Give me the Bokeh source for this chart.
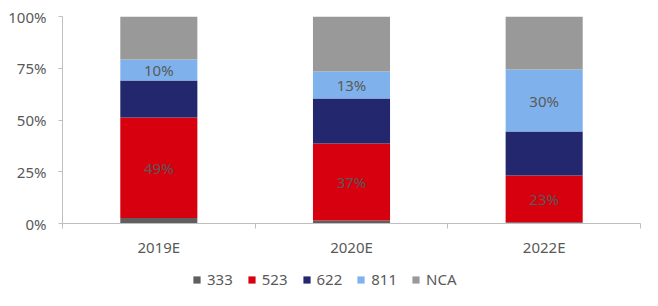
from bokeh.plotting import figure
from bokeh.layouts import column
from bokeh.models import ColumnDataSource, FixedTicker, Legend, LegendItem, NumeralTickFormatter, LabelSet
from bokeh.core.properties import value
from bokeh.embed import file_html
from bokeh.resources import INLINE

categories = ["2019E", "2020E", "2022E"]
series = ["333", "523", "622", "811", "NCA"]
s333 = [0.026, 0.014, 0.006]
s523 = [0.486, 0.372, 0.226]
s622 = [0.179, 0.218, 0.212]
s811 = [0.101, 0.130, 0.300]
sNCA = [0.208, 0.266, 0.256]
colors = ["#5f5f5f", "#d7000f", "#23286e", "#7fb2ec", "#999999"]
label_523 = ["49%", "37%", "23%"]
label_811 = ["10%", "13%", "30%"]

FONT = "Noto Sans"
TXT = "#595959"
FS = "15px"

x = [i + 0.5 for i in range(len(categories))]
data = dict(x=x, **{"333": s333, "523": s523, "622": s622, "811": s811, "NCA": sNCA})
src = ColumnDataSource(data)

p = figure(width=658, height=262, x_range=(0, 3), y_range=(0, 1),
           output_backend="svg", toolbar_location=None,
           min_border_left=62, min_border_right=18, min_border_top=16, min_border_bottom=39)
p.outline_line_color = None
p.xgrid.visible = False
p.ygrid.visible = False

rs = p.vbar_stack(series, x="x", width=0.4, color=colors, line_color=None, source=src)

# data labels
lab_y523 = [a + b / 2 for a, b in zip(s333, s523)]
lab_y811 = [a + b + c + d / 2 for a, b, c, d in zip(s333, s523, s622, s811)]
lsrc = ColumnDataSource(dict(x=x + x, y=lab_y523 + lab_y811, t=label_523 + label_811))
p.add_layout(LabelSet(x="x", y="y", text="t", source=lsrc, text_align="center",
                      text_baseline="middle", text_color=TXT, text_font=value(FONT),
                      text_font_size=FS))

# y axis
p.yaxis.ticker = FixedTicker(ticks=[0, 0.25, 0.5, 0.75, 1.0])
p.yaxis.formatter = NumeralTickFormatter(format="0%")
p.yaxis.axis_line_color = "#bfbfbf"
p.yaxis.major_tick_line_color = "#bfbfbf"
p.yaxis.major_tick_out = 4
p.yaxis.major_tick_in = 0
p.yaxis.minor_tick_line_color = None
p.yaxis.major_label_text_color = TXT
p.yaxis.major_label_text_font = FONT
p.yaxis.major_label_text_font_size = FS
p.yaxis.major_label_standoff = 12

# x axis
p.xaxis.ticker = FixedTicker(ticks=x, minor_ticks=[0, 1, 2, 3])
p.xaxis.major_label_overrides = {xv: c for xv, c in zip(x, categories)}
p.xaxis.axis_line_color = "#bfbfbf"
p.xaxis.major_tick_line_color = None
p.xaxis.major_tick_out = 0
p.xaxis.major_tick_in = 0
p.xaxis.minor_tick_line_color = "#bfbfbf"
p.xaxis.minor_tick_out = 5
p.xaxis.minor_tick_in = 0
p.xaxis.major_label_text_color = TXT
p.xaxis.major_label_text_font = FONT
p.xaxis.major_label_text_font_size = FS
p.xaxis.major_label_standoff = 8

# legend in a strip below the chart
lg = figure(width=658, height=38, x_range=(0, 1), y_range=(0, 1),
            output_backend="svg", toolbar_location=None,
            min_border_left=0, min_border_right=0, min_border_top=0, min_border_bottom=0)
lg.axis.visible = False
lg.grid.visible = False
lg.outline_line_color = None
dummy = ColumnDataSource(dict(x=[-5.0], top=[-5.0]))
lrs = [lg.vbar(x="x", top="top", bottom=-6.0, width=0.1, color=c, line_color=None, source=dummy)
       for c in colors]
items = [LegendItem(label=s, renderers=[r], index=0) for s, r in zip(series, lrs)]
legend = Legend(items=items, orientation="horizontal", location=(130, 11),
                label_text_font=FONT, label_text_font_size=FS, label_text_color=TXT,
                glyph_width=9, glyph_height=9, label_height=16, spacing=14, label_standoff=6,
                border_line_color=None, background_fill_alpha=0, padding=0, margin=0)
lg.add_layout(legend, "center")

open("out.html", "w").write(file_html(column(p, lg, spacing=0), INLINE))
